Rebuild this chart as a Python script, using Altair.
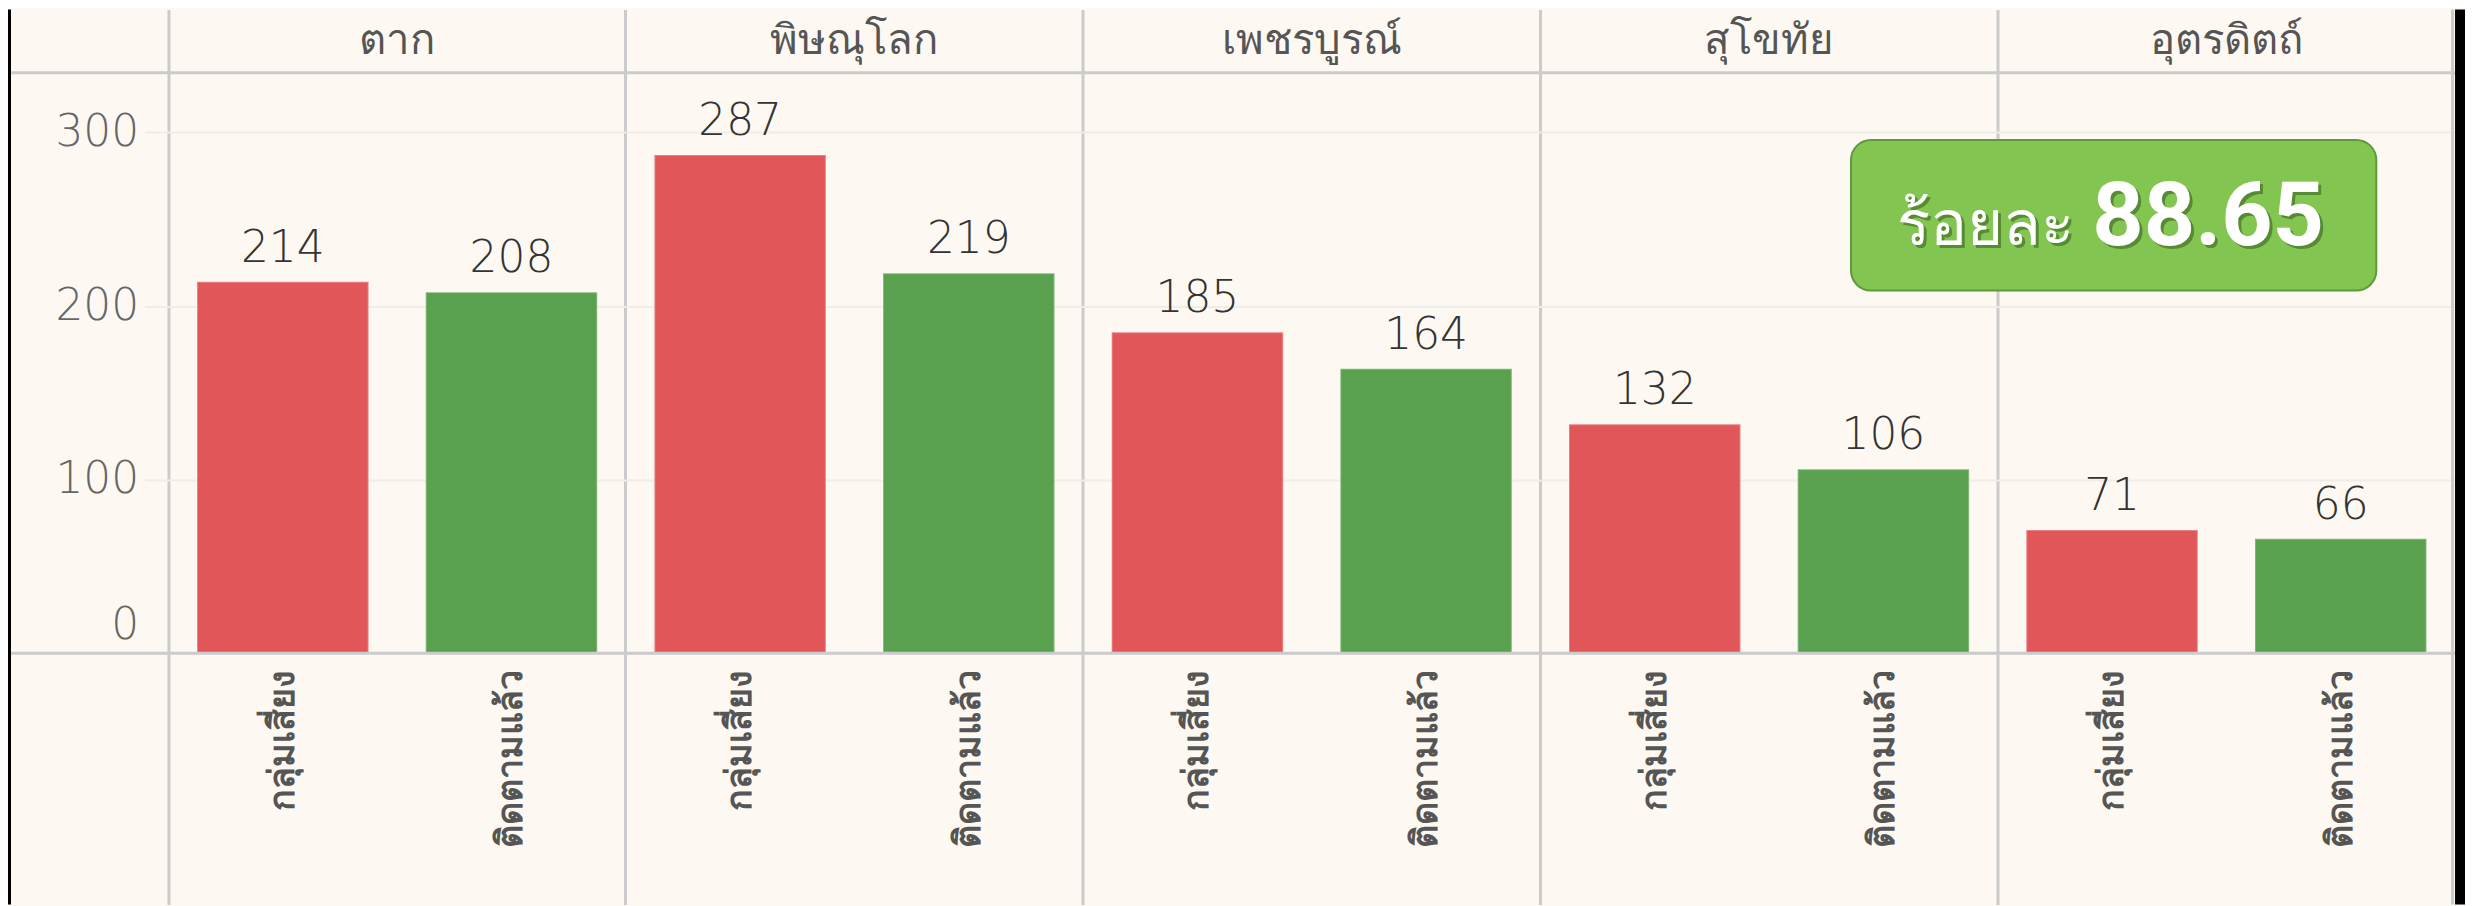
import altair as alt
import pandas as pd

# ---- data ----
provinces = ["ตาก", "พิษณุโลก", "เพชรบูรณ์", "สุโขทัย", "อุตรดิตถ์"]
groups = ["กลุ่มเสี่ยง", "ติดตามแล้ว"]
risk_values = [214, 287, 185, 132, 71]
followed_values = [208, 219, 164, 106, 66]
y_ticks = [0, 100, 200, 300]
badge_label = "ร้อยละ"
badge_value = 88.65

rows = []
for p, r, f in zip(provinces, risk_values, followed_values):
    rows.append({"province": p, "group": groups[0], "value": r})
    rows.append({"province": p, "group": groups[1], "value": f})
df = pd.DataFrame(rows)
df_prov = pd.DataFrame({"province": provinces})
df_one = pd.DataFrame({"k": [0]})
df_badge = pd.DataFrame({"label": [badge_label], "value": [badge_value]})

# ---- layout ----
W, H = 2294, 898
Y_DOMAIN = [-144.7, 370.9]
GRID = "#cbcbcb"
LIGHT = "#efede8"
THAI_FONT = "Noto Sans"
NUM_FONT = "DejaVu Sans"

x_enc = alt.X(
    "province:N", sort=provinces,
    scale=alt.Scale(paddingInner=0, paddingOuter=0),
    axis=alt.Axis(grid=True, bandPosition=0, labels=False, ticks=False,
                  domain=False, title=None, gridColor=GRID, gridWidth=3),
)
xoff_enc = alt.XOffset("group:N", sort=groups,
                       scale=alt.Scale(paddingInner=0.25, paddingOuter=0.125))
y_enc = alt.Y(
    "value:Q",
    scale=alt.Scale(domain=Y_DOMAIN, nice=False, zero=False),
    axis=alt.Axis(values=y_ticks, title=None, grid=True, gridColor=LIGHT,
                  gridWidth=2, ticks=True, tickSize=24, tickColor=LIGHT,
                  tickWidth=2, domain=False, labelFontSize=44,
                  labelFontWeight=300,
                  labelColor="#666666", labelPadding=6, labelFont=NUM_FONT,
                  labelOffset={"condition": {"test": "datum.value == 0",
                                             "value": -28}, "value": 0}),
)
color_enc = alt.Color("group:N", scale=alt.Scale(domain=groups,
                      range=["#e15759", "#59a14f"]), legend=None)

base = alt.Chart(df)

bars = base.mark_bar(stroke="#ffffff", strokeOpacity=0.25, strokeWidth=2).encode(
    x=x_enc, xOffset=xoff_enc, y=y_enc, y2=alt.datum(0), color=color_enc
)

value_labels = base.mark_text(baseline="bottom", dy=-11, fontSize=44,
                              fontWeight=300,
                              font=NUM_FONT, color="#333333").encode(
    x=x_enc, xOffset=xoff_enc, y=y_enc, text="value:Q"
)

group_labels = base.mark_text(angle=270, align="right", baseline="middle",
                              fontSize=36, fontWeight="bold", font=THAI_FONT,
                              color="#555555").encode(
    x=x_enc, xOffset=xoff_enc, y=alt.value(663), text="group:N"
)

prov_headers = alt.Chart(df_prov).mark_text(fontSize=42, font=THAI_FONT,
                                            color="#555555", baseline="middle").encode(
    x=x_enc, y=alt.value(31.5), text="province:N"
)

header_line = alt.Chart(df_one).mark_rule(color=GRID, strokeWidth=3).encode(
    x=alt.value(-158), x2=alt.value(W), y=alt.value(63.5)
)
zero_line = alt.Chart(df_one).mark_rule(color=GRID, strokeWidth=3).encode(
    x=alt.value(-158), x2=alt.value(W), y=alt.datum(0)
)
right_gray = alt.Chart(df_one).mark_rule(color=GRID, strokeWidth=3).encode(
    x=alt.value(W - 2.5), y=alt.value(0), y2=alt.value(H)
)
left_black = alt.Chart(df_one).mark_rule(color="#000000", strokeWidth=3).encode(
    x=alt.value(-159.5), y=alt.value(0), y2=alt.value(H)
)
right_black = alt.Chart(df_one).mark_rule(color="#000000", strokeWidth=10).encode(
    x=alt.value(W + 5), y=alt.value(0), y2=alt.value(H)
)

badge = alt.Chart(df_badge).mark_rect(cornerRadius=20, fill="#82c551",
                                      stroke="#5e9a3a", strokeWidth=2).encode(
    x=alt.value(1688), x2=alt.value(2215), y=alt.value(131), y2=alt.value(282)
)
badge_label_shadow = alt.Chart(df_badge).mark_text(
    align="right", baseline="alphabetic", fontSize=62, font=THAI_FONT,
    color="#2f4f1a", opacity=0.5, dx=3, dy=3).encode(
    x=alt.value(1912), y=alt.value(236), text="label:N")
badge_label_txt = alt.Chart(df_badge).mark_text(
    align="right", baseline="alphabetic", fontSize=62, font=THAI_FONT,
    color="#ffffff").encode(
    x=alt.value(1912), y=alt.value(236), text="label:N")
badge_val_shadow = alt.Chart(df_badge).mark_text(
    align="left", baseline="alphabetic", fontSize=90, font="Roboto",
    fontWeight="bold", color="#2f4f1a", opacity=0.5, dx=3, dy=3).encode(
    x=alt.value(1930), y=alt.value(236), text=alt.Text("value:Q", format=".2f"))
badge_val_txt = alt.Chart(df_badge).mark_text(
    align="left", baseline="alphabetic", fontSize=90, font="Roboto",
    fontWeight="bold", color="#ffffff").encode(
    x=alt.value(1930), y=alt.value(236), text=alt.Text("value:Q", format=".2f"))

chart = alt.layer(
    bars, value_labels, group_labels, prov_headers,
    header_line, zero_line, right_gray, left_black, right_black,
    badge, badge_label_shadow, badge_label_txt, badge_val_shadow, badge_val_txt,
).properties(
    width=W, height=H,
    padding={"left": 161, "top": 0, "right": 10, "bottom": 0},
    autosize=alt.AutoSizeParams(type="none"),
).configure(background="#fdf9f2").configure_view(strokeWidth=0)

chart.save("out.html", embed_options={"renderer": "svg", "actions": False})
